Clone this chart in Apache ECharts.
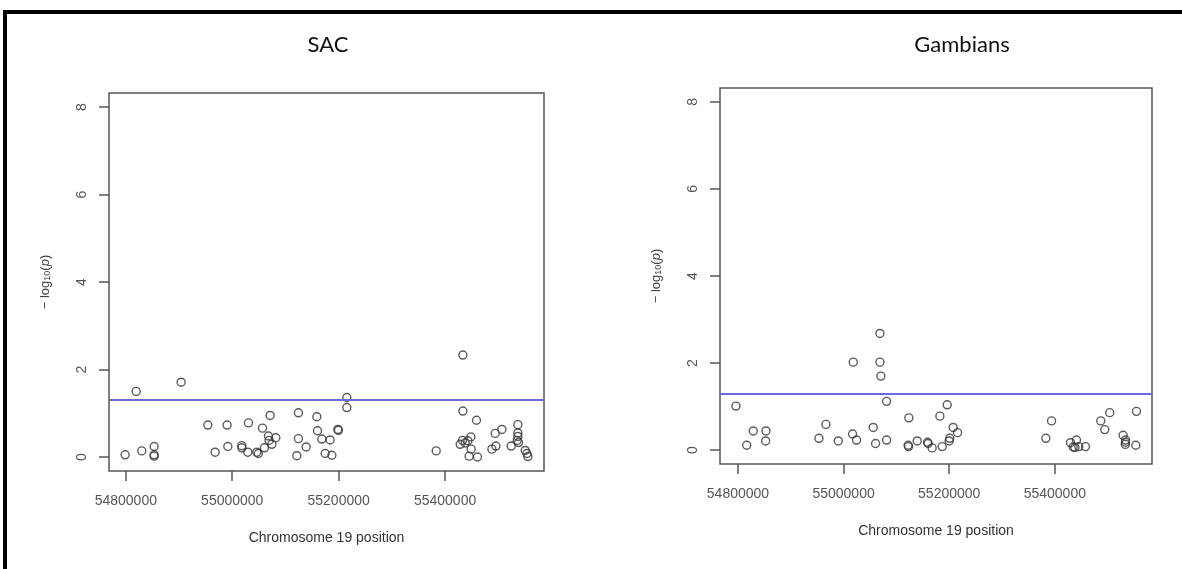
<!DOCTYPE html>
<html>
<head>
<meta charset="utf-8">
<script src="https://cdn.jsdelivr.net/npm/echarts@6/dist/echarts.min.js"></script>
<style>
  body { margin: 0; background: #fff; }
  #chart { width: 1182px; height: 569px; }
</style>
</head>
<body>
<div id="chart"></div>
<script>
  // SAC panel: chromosome 19 position and -log10(p)
  var sacPos = [
    54798700, 54830000, 54853200, 54853200, 54853200, 54819400, 54904000, 54954100, 54967900, 54990400,
    54991700, 55018000, 55018000, 55030500, 55029300, 55046200, 55049000, 55056800, 55060500, 55071200,
    55068000, 55069300, 55074400, 55081900, 55124400, 55124400, 55121400, 55138900, 55159000, 55160200,
    55168400, 55184000, 55174600, 55187200, 55199600, 55198500, 55215400, 55215400, 55433500, 55383300,
    55433500, 55459000, 55448500, 55432700, 55437800, 55428400, 55442800, 55449000, 55445300, 55460900,
    55488000, 55495500, 55494200, 55506800, 55524200, 55536800, 55536800, 55536800, 55535500, 55538000,
    55550600, 55553800, 55555600
  ]
  var sacLogP = [
    0.05, 0.14, 0.24, 0.02, 0.05, 1.50, 1.71, 0.73, 0.11, 0.73,
    0.24, 0.26, 0.21, 0.78, 0.11, 0.11, 0.08, 0.66, 0.21, 0.95,
    0.48, 0.38, 0.29, 0.44, 1.01, 0.42, 0.03, 0.23, 0.92, 0.60,
    0.41, 0.39, 0.08, 0.04, 0.61, 0.63, 1.36, 1.13, 2.33, 0.14,
    1.05, 0.84, 0.46, 0.38, 0.32, 0.29, 0.37, 0.18, 0.02, 0.00,
    0.18, 0.25, 0.54, 0.63, 0.25, 0.74, 0.55, 0.47, 0.38, 0.33,
    0.15, 0.08, 0.01
  ]

  // Gambians panel
  var gamPos = [
    54796200, 54816500, 54829000, 54853000, 54852400, 54953300, 54966500, 54989900, 55018300, 55017000,
    55024600, 55068800, 55068800, 55070600, 55081400, 55056100, 55060600, 55081400, 55123600, 55123000,
    55122200, 55139400, 55159000, 55160000, 55167700, 55182300, 55186700, 55196200, 55199900, 55201000,
    55207500, 55215800, 55383000, 55393800, 55429700, 55434700, 55438000, 55441000, 55445400, 55458000,
    55487000, 55504000, 55494600, 55529300, 55533800, 55533800, 55533400, 55553300, 55554600
  ]
  var gamLogP = [
    1.01, 0.11, 0.44, 0.44, 0.21, 0.27, 0.59, 0.21, 2.02, 0.37,
    0.23, 2.68, 2.02, 1.70, 1.12, 0.52, 0.15, 0.23, 0.74, 0.08,
    0.11, 0.21, 0.18, 0.15, 0.05, 0.78, 0.08, 1.04, 0.21, 0.27,
    0.52, 0.40, 0.27, 0.67, 0.17, 0.07, 0.06, 0.23, 0.08, 0.08,
    0.67, 0.86, 0.47, 0.34, 0.23, 0.18, 0.13, 0.11, 0.89
  ]

  var xTicks = [54800000, 55000000, 55200000, 55400000]
  var yTicks = [0, 2, 4, 6, 8]
  var threshold = 1.3

  function zip(xs, ys) {
    return xs.map(function (x, i) { return [x, ys[i]] })
  }

  var gray = '#555'
  var plainNum = function (v) { return String(v) }

  function xAxisFor(idx, min, max) {
    return {
      type: 'value',
      gridIndex: idx,
      min: min,
      max: max,
      name: 'Chromosome 19 position',
      nameLocation: 'middle',
      nameGap: 60,
      nameMoveOverlap: false,
      nameTextStyle: { color: '#333', fontSize: 14, fontFamily: 'Liberation Sans' },
      axisLine: { show: false, onZero: false },
      axisTick: { show: true, inside: false, length: 10, customValues: xTicks, lineStyle: { color: gray, width: 1.5 } },
      axisLabel: {
        customValues: xTicks, margin: 23, formatter: plainNum,
        color: gray, fontSize: 14, fontFamily: 'Liberation Sans'
      },
      splitLine: { show: false }
    }
  }

  function yAxisFor(idx) {
    return {
      type: 'value',
      gridIndex: idx,
      min: -0.32,
      max: 8.32,
      name: '{a|− log}{b|10}{a|(}{c|p}{a|)}',
      nameLocation: 'middle',
      nameGap: 55,
      nameMoveOverlap: false,
      nameTextStyle: {
        rich: {
          a: { fontSize: 13, color: '#444', fontFamily: 'Liberation Sans', lineHeight: 18 },
          b: { fontSize: 9, color: '#444', fontFamily: 'Liberation Sans', lineHeight: 18, padding: [6, 0, 0, 0] },
          c: { fontSize: 13, color: '#444', fontFamily: 'Liberation Sans', fontStyle: 'italic', lineHeight: 18 }
        }
      },
      axisLine: { show: false, onZero: false },
      axisTick: { show: true, inside: false, length: 10, customValues: yTicks, lineStyle: { color: gray, width: 1.5 } },
      axisLabel: {
        customValues: yTicks, rotate: 90, margin: 20, formatter: plainNum,
        color: gray, fontSize: 14, fontFamily: 'Liberation Sans'
      },
      splitLine: { show: false }
    }
  }

  function scatterFor(idx, data) {
    return {
      type: 'scatter',
      xAxisIndex: idx,
      yAxisIndex: idx,
      data: data,
      symbol: 'circle',
      symbolSize: 8,
      itemStyle: { color: 'rgba(0,0,0,0)', borderColor: '#333', borderWidth: 1.4 },
      markLine: {
        silent: true,
        symbol: 'none',
        label: { show: false },
        lineStyle: { color: '#6a6ade', width: 2, type: 'solid' },
        data: [{ yAxis: threshold }]
      }
    }
  }

  var chart = echarts.init(document.getElementById('chart'))
  chart.setOption({
    animation: false,
    backgroundColor: '#fff',
    grid: [
      { left: 109, top: 93, width: 435, height: 378, show: true, borderColor: gray, borderWidth: 1.5 },
      { left: 720, top: 88, width: 432, height: 376, show: true, borderColor: gray, borderWidth: 1.5 }
    ],
    xAxis: [
      xAxisFor(0, 54768400, 55585900),
      xAxisFor(1, 54766000, 55584000)
    ],
    yAxis: [yAxisFor(0), yAxisFor(1)],
    series: [
      scatterFor(0, zip(sacPos, sacLogP)),
      scatterFor(1, zip(gamPos, gamLogP))
    ],
    graphic: [
      // outer frame (top and left edges)
      { type: 'rect', shape: { x: 3, y: 10, width: 1179, height: 4 }, style: { fill: '#000' } },
      { type: 'rect', shape: { x: 3, y: 10, width: 4, height: 559 }, style: { fill: '#000' } },
      { type: 'text', x: 328, y: 45, style: { text: 'SAC', font: '22px Lato', fill: '#111', align: 'center', verticalAlign: 'middle' } },
      { type: 'text', x: 962, y: 45, style: { text: 'Gambians', font: '22px Lato', fill: '#111', align: 'center', verticalAlign: 'middle' } }
    ]
  })
</script>
</body>
</html>
